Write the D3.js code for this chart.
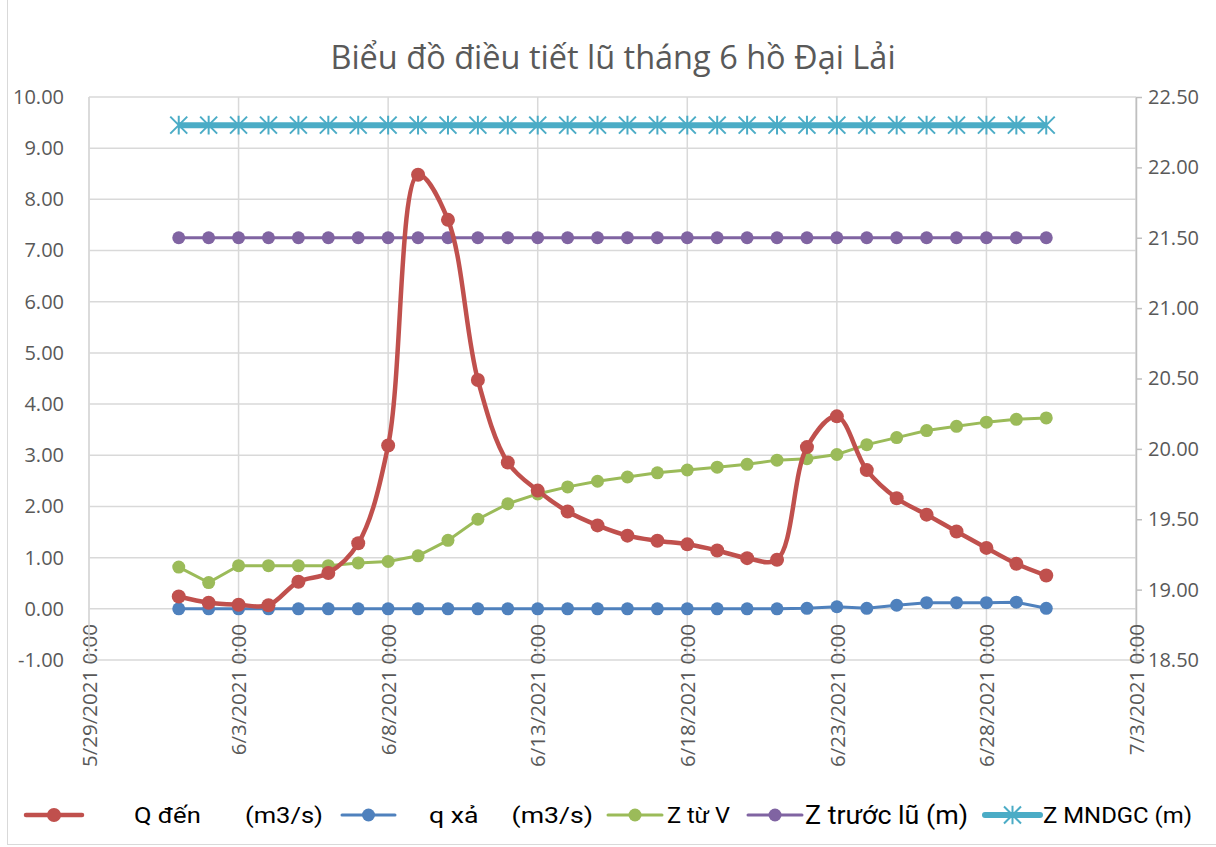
<!DOCTYPE html>
<html>
<head>
<meta charset="utf-8">
<script src="https://cdn.jsdelivr.net/npm/d3@7"></script>
<style>
  html, body { margin: 0; padding: 0; background: #fff; }
  svg { display: block; }
</style>
</head>
<body>
<div id="chart"></div>
<script>
// daily series, 6/1/2021 .. 6/30/2021
const qDen = [0.24, 0.12, 0.08, 0.07, 0.53, 0.70, 1.28, 3.19, 8.48, 7.60,
  4.47, 2.86, 2.31, 1.90, 1.63, 1.43, 1.33, 1.26, 1.14, 0.99,
  0.96, 3.16, 3.76, 2.71, 2.16, 1.84, 1.51, 1.19, 0.88, 0.65];
const qXa = [0, 0, 0, 0, 0, 0, 0, 0, 0, 0,
  0, 0, 0, 0, 0, 0, 0, 0, 0, 0,
  0, 0.01, 0.04, 0.01, 0.07, 0.12, 0.12, 0.12, 0.13, 0.01];
const zTuV = [19.16, 19.05, 19.17, 19.17, 19.17, 19.17, 19.19, 19.20, 19.24, 19.35,
  19.50, 19.61, 19.68, 19.73, 19.77, 19.80, 19.83, 19.85, 19.87, 19.89,
  19.92, 19.93, 19.96, 20.03, 20.08, 20.13, 20.16, 20.19, 20.21, 20.22];
const zTruocLu = 21.50;
const zMNDGC = 22.30;

const leftTicks = [10, 9, 8, 7, 6, 5, 4, 3, 2, 1, 0, -1];
const rightTicks = [22.5, 22, 21.5, 21, 20.5, 20, 19.5, 19, 18.5];
const dateTicks = ["2021-05-29", "2021-06-03", "2021-06-08", "2021-06-13",
  "2021-06-18", "2021-06-23", "2021-06-28", "2021-07-03"];

const seriesNames = ["Q đến       (m3/s)", "q xả     (m3/s)", "Z từ V", "Z trước lũ (m)", "Z MNDGC (m)"];
const seriesColors = ["#C0504D", "#4F81BD", "#9BBB59", "#8064A2", "#4BACC6"];

const W = 1216, H = 847;
const plot = { left: 89, right: 1136, top: 97, bottom: 660 };

const parse = d3.timeParse("%Y-%m-%d");
const days = d3.timeDay.range(parse("2021-06-01"), parse("2021-07-01"));
const tickDates = dateTicks.map(parse);

const x = d3.scaleTime()
  .domain([tickDates[0], tickDates[tickDates.length - 1]])
  .range([plot.left, plot.right]);
const yL = d3.scaleLinear().domain([-1, 10]).range([plot.bottom, plot.top]);
const yR = d3.scaleLinear().domain([18.5, 22.5]).range([plot.bottom, plot.top]);

const svg = d3.select("#chart").append("svg")
  .attr("width", W).attr("height", H)
  .style("font-family", "'Open Sans', sans-serif");

svg.append("rect")
  .attr("x", 7.5).attr("y", -2)
  .attr("width", W).attr("height", H + 0.5 - 1)
  .attr("fill", "#fff").attr("stroke", "#d9d9d9").attr("stroke-width", 1);

svg.append("text")
  .attr("x", 613).attr("y", 69)
  .attr("text-anchor", "middle")
  .attr("font-size", 32.5)
  .attr("fill", "#595959")
  .text("Biểu đồ điều tiết lũ tháng 6 hồ Đại Lải");

// gridlines
let grid = svg.append("g").attr("stroke", "#d9d9d9").attr("stroke-width", 1.5);
grid.selectAll("line.h")
  .data(leftTicks)
  .join("line")
  .attr("x1", plot.left).attr("x2", plot.right)
  .attr("y1", (d) => yL(d)).attr("y2", (d) => yL(d));
grid.selectAll("line.v")
  .data(tickDates)
  .join("line")
  .attr("class", "v")
  .attr("x1", (d) => x(d)).attr("x2", (d) => x(d))
  .attr("y1", plot.top).attr("y2", plot.bottom);

// left axis
svg.append("g")
  .attr("transform", `translate(${plot.left},0)`)
  .call(d3.axisLeft(yL).tickValues(leftTicks).tickSize(0).tickPadding(25)
    .tickFormat((d) => d.toFixed(2)))
  .call((g) => g.select(".domain").remove())
  .call((g) => g.selectAll("text").attr("font-size", 20).attr("fill", "#595959")
    .style("font-family", "'Open Sans', sans-serif"));

// right axis
svg.append("g")
  .attr("transform", `translate(${plot.right},0)`)
  .call(d3.axisRight(yR).tickValues(rightTicks).tickSize(6).tickSizeOuter(0).tickPadding(6)
    .tickFormat((d) => d.toFixed(2)))
  .call((g) => g.select(".domain").attr("stroke", "#bfbfbf").attr("stroke-width", 1.5))
  .call((g) => g.selectAll(".tick line").attr("stroke", "#bfbfbf").attr("stroke-width", 1.5))
  .call((g) => g.selectAll("text").attr("font-size", 20).attr("fill", "#595959")
    .style("font-family", "'Open Sans', sans-serif"));

// bottom axis (rotated labels)
svg.append("g")
  .attr("transform", `translate(0,${plot.bottom})`)
  .call(d3.axisBottom(x).tickValues(tickDates).tickSize(0)
    .tickFormat(d3.timeFormat("%-m/%-d/%Y %-H:%M")))
  .call((g) => g.select(".domain").remove())
  .call((g) => g.selectAll("text")
    .attr("transform", "rotate(-90)")
    .attr("text-anchor", "end")
    .attr("x", 36).attr("y", 0).attr("dy", "0.35em")
    .attr("font-size", 20.5).attr("fill", "#595959")
    .style("font-family", "'Open Sans', sans-serif"));

svg.append("line")
  .attr("x1", plot.left).attr("x2", plot.left)
  .attr("y1", plot.top).attr("y2", plot.bottom)
  .attr("stroke", "#d9d9d9").attr("stroke-width", 1.5);

// series
function asterisk(sel, size) {
  let s = size / 2;
  sel.append("path")
    .attr("d", `M${-s},${-s}L${s},${s}M${-s},${s}L${s},${-s}M0,${-s * 1.1}L0,${s * 1.1}`)
    .attr("fill", "none");
}

const lineL = d3.line().x((d, i) => x(days[i])).y((d) => yL(d));
const lineR = d3.line().x((d, i) => x(days[i])).y((d) => yR(d));

// Z MNDGC
let mndgc = days.map(() => zMNDGC);
let gM = svg.append("g");
gM.append("path").attr("d", lineR(mndgc))
  .attr("fill", "none").attr("stroke", seriesColors[4]).attr("stroke-width", 6);
gM.selectAll("g.m")
  .data(mndgc)
  .join("g")
  .attr("transform", (d, i) => `translate(${x(days[i])},${yR(d)})`)
  .attr("stroke", seriesColors[4]).attr("stroke-width", 2)
  .each(function () { asterisk(d3.select(this), 17); });

// Z truoc lu
let truoc = days.map(() => zTruocLu);
let gT = svg.append("g");
gT.append("path").attr("d", lineR(truoc))
  .attr("fill", "none").attr("stroke", seriesColors[3]).attr("stroke-width", 3);
gT.selectAll("circle")
  .data(truoc)
  .join("circle")
  .attr("cx", (d, i) => x(days[i])).attr("cy", (d) => yR(d))
  .attr("r", 6.5).attr("fill", seriesColors[3]);

// Z tu V
let gV = svg.append("g");
gV.append("path").attr("d", lineR(zTuV))
  .attr("fill", "none").attr("stroke", seriesColors[2]).attr("stroke-width", 3);
gV.selectAll("circle")
  .data(zTuV)
  .join("circle")
  .attr("cx", (d, i) => x(days[i])).attr("cy", (d) => yR(d))
  .attr("r", 6.5).attr("fill", seriesColors[2]);

// q xa
let gX = svg.append("g");
gX.append("path").attr("d", lineL(qXa))
  .attr("fill", "none").attr("stroke", seriesColors[1]).attr("stroke-width", 3);
gX.selectAll("circle")
  .data(qXa)
  .join("circle")
  .attr("cx", (d, i) => x(days[i])).attr("cy", (d) => yL(d))
  .attr("r", 6.5).attr("fill", seriesColors[1]);

// Q den (smoothed)
let gQ = svg.append("g");
gQ.append("path").attr("d", lineL.curve(d3.curveCatmullRom.alpha(0.5))(qDen))
  .attr("fill", "none").attr("stroke", seriesColors[0]).attr("stroke-width", 4.5);
gQ.selectAll("circle")
  .data(qDen)
  .join("circle")
  .attr("cx", (d, i) => x(days[i])).attr("cy", (d) => yL(d))
  .attr("r", 7).attr("fill", seriesColors[0]);

// legend
const legX = [
  { l0: 26, l1: 82, tx: 134, tw: 189 },
  { l0: 342, l1: 395, tx: 429, tw: 164 },
  { l0: 608, l1: 662, tx: 667, tw: 63 },
  { l0: 748, l1: 802, tx: 805, tw: 163 },
  { l0: 985, l1: 1040, tx: 1043, tw: 149 }
];
let legend = svg.append("g").attr("transform", "translate(0,815)");
legend.selectAll("g.item")
  .data(seriesNames)
  .join("g")
  .attr("class", "item")
  .each(function (name, i) {
    let g = d3.select(this);
    let p = legX[i];
    let c = seriesColors[i];
    g.append("line")
      .attr("x1", p.l0).attr("x2", p.l1).attr("y1", 0).attr("y2", 0)
      .attr("stroke", c).attr("stroke-width", i === 0 ? 4.5 : (i === 4 ? 6 : 3))
      .attr("stroke-linecap", "round");
    let mx = (p.l0 + p.l1) / 2;
    if (i === 4) {
      let m = g.append("g").attr("transform", `translate(${mx},0)`)
        .attr("stroke", c).attr("stroke-width", 2);
      asterisk(m, 17);
    } else {
      g.append("circle").attr("cx", mx).attr("cy", 0)
        .attr("r", i === 0 ? 7 : 6.5).attr("fill", c);
    }
    g.append("text")
      .attr("x", p.tx).attr("y", 0).attr("dy", "0.35em")
      .attr("font-size", i === 3 ? 25 : 22)
      .attr("fill", "#000")
      .attr("textLength", p.tw).attr("lengthAdjust", "spacingAndGlyphs")
      .style("white-space", "pre")
      .style("font-family", "Roboto, 'Open Sans', sans-serif")
      .text(name);
  });
</script>
</body>
</html>
